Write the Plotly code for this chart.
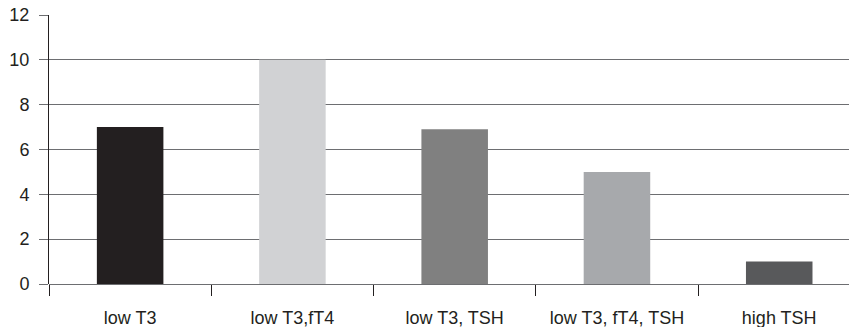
import plotly.graph_objects as go

categories = ["low T3", "low T3,fT4", "low T3, TSH", "low T3, fT4, TSH", "high TSH"]
values = [7, 10, 6.9, 5, 1]
bar_colors = ["#231f20", "#d1d2d4", "#808080", "#a7a9ac", "#58595b"]
y_ticks = [0, 2, 4, 6, 8, 10, 12]

fig = go.Figure(go.Bar(
    x=categories, y=values, marker=dict(color=bar_colors, line=dict(width=0)),
    width=0.41,
))

fig.update_layout(
    width=849, height=327,
    margin=dict(l=49, r=0, t=15, b=43, pad=0),
    paper_bgcolor="white", plot_bgcolor="white",
    font=dict(family="Liberation Sans, Arial, sans-serif", size=18, color="#231f20"),
    showlegend=False,
)
fig.update_xaxes(
    range=[-0.5, 4.43], automargin=False,
    tickson="boundaries", ticks="outside", ticklen=11, tickcolor="#231f20", tickwidth=1,
    showline=False, showgrid=False, zeroline=False,
    tickfont=dict(size=18), ticklabelstandoff=21,
)
fig.update_yaxes(
    range=[0, 12], tickvals=y_ticks, automargin=False,
    showline=True, linecolor="#231f20", linewidth=1,
    ticks="outside", ticklen=9, tickcolor="#6d6e71", tickwidth=1,
    showgrid=True, gridcolor="#6d6e71", gridwidth=1,
    zeroline=True, zerolinecolor="#6d6e71", zerolinewidth=1,
    tickfont=dict(size=18), ticklabelstandoff=6,
)

fig.write_html(
    "out.html",
    config={"displayModeBar": False},
    post_script="document.body.style.margin='0';document.body.style.padding='0';",
)
